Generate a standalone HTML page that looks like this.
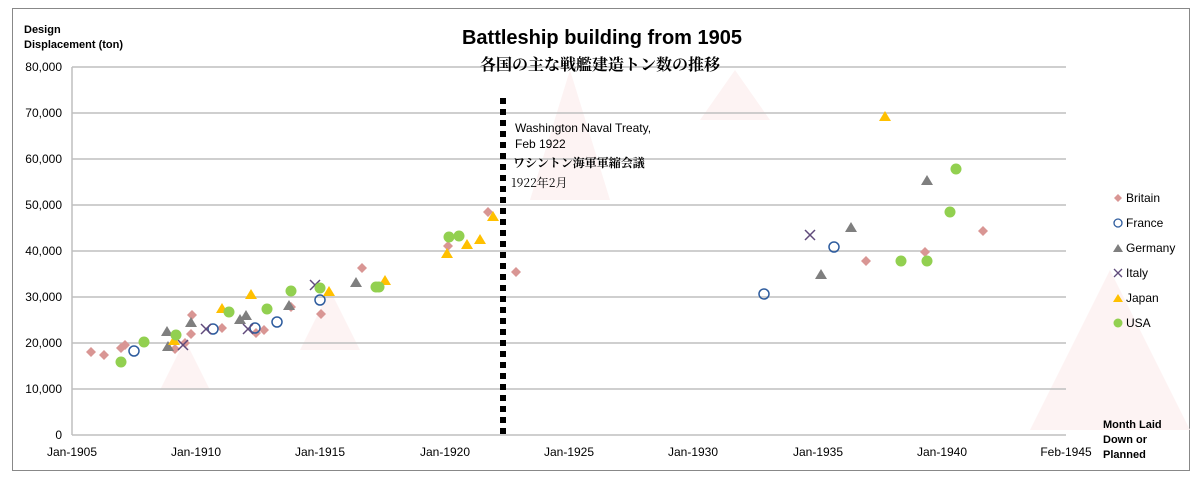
<!DOCTYPE html><html><head><meta charset="utf-8"><style>body{margin:0;background:#fff}svg{font-family:"Liberation Sans","Noto Sans CJK JP",sans-serif}</style></head><body>
<svg width="1200" height="481" xmlns="http://www.w3.org/2000/svg">
<rect x="12.5" y="8.5" width="1177" height="462" fill="#fff" stroke="#888"/>
<g fill="#fdf3f3"><polygon points="530,200 570,70 610,200"/><polygon points="700,120 735,70 770,120"/><polygon points="1030,430 1110,270 1190,430"/><polygon points="160,390 185,340 210,390"/><polygon points="300,350 330,290 360,350"/></g>
<g stroke="#bfbfbf" stroke-width="1.5">
<line x1="72" y1="67" x2="1066" y2="67"/><line x1="72" y1="113" x2="1066" y2="113"/><line x1="72" y1="159" x2="1066" y2="159"/><line x1="72" y1="205" x2="1066" y2="205"/><line x1="72" y1="251" x2="1066" y2="251"/><line x1="72" y1="297" x2="1066" y2="297"/><line x1="72" y1="343" x2="1066" y2="343"/><line x1="72" y1="389" x2="1066" y2="389"/><line x1="72" y1="435" x2="1066" y2="435"/><line x1="72" y1="67" x2="72" y2="435"/>
</g>
<g font-size="12" fill="#000" text-anchor="end">
<text x="62" y="71">80,000</text><text x="62" y="117">70,000</text><text x="62" y="163">60,000</text><text x="62" y="209">50,000</text><text x="62" y="255">40,000</text><text x="62" y="301">30,000</text><text x="62" y="347">20,000</text><text x="62" y="393">10,000</text><text x="62" y="439">0</text>
</g>
<g font-size="12" text-anchor="middle">
<text x="72" y="456">Jan-1905</text><text x="196" y="456">Jan-1910</text><text x="320" y="456">Jan-1915</text><text x="445" y="456">Jan-1920</text><text x="569" y="456">Jan-1925</text><text x="693" y="456">Jan-1930</text><text x="818" y="456">Jan-1935</text><text x="942" y="456">Jan-1940</text><text x="1066" y="456">Feb-1945</text>
</g>
<text x="24" y="33" font-size="11" font-weight="bold">Design</text><text x="24" y="48" font-size="11" font-weight="bold">Displacement (ton)</text>
<text x="1103" y="428" font-size="11" font-weight="bold">Month Laid</text><text x="1103" y="443" font-size="11" font-weight="bold">Down or</text><text x="1103" y="458" font-size="11" font-weight="bold">Planned</text>
<text x="602" y="44" font-size="20" font-weight="bold" text-anchor="middle">Battleship building from 1905</text>
<text x="600" y="70" font-size="16" font-weight="bold" text-anchor="middle" font-family="Noto Serif CJK SC,serif">各国の主な戦艦建造トン数の推移</text>
<line x1="503" y1="98" x2="503" y2="435" stroke="#000" stroke-width="6" stroke-dasharray="6,5"/>
<g font-size="12"><text x="515" y="132">Washington Naval Treaty,</text><text x="515" y="148">Feb 1922</text>
<text x="513" y="167" font-family="Noto Serif CJK JP,serif" font-weight="bold">ワシントン海軍軍縮会議</text><text x="511" y="187" font-family="Noto Serif CJK JP,serif">1922年2月</text></g>
<g id="b" fill="#d99694">
<script>/* none */</script>
</g>
<g fill="#d99694">
<path d="M91 347l5 5-5 5-5-5z"/><path d="M104 350l5 5-5 5-5-5z"/><path d="M121 343l5 5-5 5-5-5z"/><path d="M125 340l5 5-5 5-5-5z"/><path d="M175 344l5 5-5 5-5-5z"/><path d="M185 338l5 5-5 5-5-5z"/><path d="M191 329l5 5-5 5-5-5z"/><path d="M192 310l5 5-5 5-5-5z"/><path d="M222 323l5 5-5 5-5-5z"/><path d="M256 328l5 5-5 5-5-5z"/><path d="M264 325l5 5-5 5-5-5z"/><path d="M291 302l5 5-5 5-5-5z"/><path d="M321 309l5 5-5 5-5-5z"/><path d="M362 263l5 5-5 5-5-5z"/><path d="M448 241l5 5-5 5-5-5z"/><path d="M488 207l5 5-5 5-5-5z"/><path d="M516 267l5 5-5 5-5-5z"/><path d="M866 256l5 5-5 5-5-5z"/><path d="M925 247l5 5-5 5-5-5z"/><path d="M983 226l5 5-5 5-5-5z"/>
</g>
<g fill="none" stroke="#2e5c9e" stroke-width="1.5">
<circle cx="134" cy="351" r="5"/><circle cx="213" cy="329" r="5"/><circle cx="255" cy="328" r="5"/><circle cx="277" cy="322" r="5"/><circle cx="320" cy="300" r="5"/><circle cx="764" cy="294" r="5"/><circle cx="834" cy="247" r="5"/>
</g>
<g fill="#7f7f7f">
<path d="M167 326l6 10h-12z"/><path d="M168 341l6 10h-12z"/><path d="M191 317l6 10h-12z"/><path d="M240 314l6 10h-12z"/><path d="M246 310l6 10h-12z"/><path d="M289 300l6 10h-12z"/><path d="M356 277l6 10h-12z"/><path d="M821 269l6 10h-12z"/><path d="M851 222l6 10h-12z"/><path d="M927 175l6 10h-12z"/>
</g>
<g stroke="#604a7b" stroke-width="1.5">
<path d="M178 340l10 10M188 340l-10 10"/><path d="M201 324l10 10M211 324l-10 10"/><path d="M243 324l10 10M253 324l-10 10"/><path d="M310 280l10 10M320 280l-10 10"/><path d="M805 230l10 10M815 230l-10 10"/>
</g>
<g fill="#ffc000">
<path d="M174 335l6 10h-12z"/><path d="M222 303l6 10h-12z"/><path d="M251 289l6 10h-12z"/><path d="M329 286l6 10h-12z"/><path d="M385 275l6 10h-12z"/><path d="M447 248l6 10h-12z"/><path d="M467 239l6 10h-12z"/><path d="M480 234l6 10h-12z"/><path d="M493 211l6 10h-12z"/><path d="M885 111l6 10h-12z"/>
</g>
<g fill="#92d050">
<circle cx="121" cy="362" r="5.5"/><circle cx="144" cy="342" r="5.5"/><circle cx="176" cy="335" r="5.5"/><circle cx="229" cy="312" r="5.5"/><circle cx="267" cy="309" r="5.5"/><circle cx="291" cy="291" r="5.5"/><circle cx="320" cy="288" r="5.5"/><circle cx="376" cy="287" r="5.5"/><circle cx="379" cy="287" r="5.5"/><circle cx="449" cy="237" r="5.5"/><circle cx="459" cy="236" r="5.5"/><circle cx="901" cy="261" r="5.5"/><circle cx="927" cy="261" r="5.5"/><circle cx="950" cy="212" r="5.5"/><circle cx="956" cy="169" r="5.5"/>
</g>
<g font-size="12">
<path d="M1118 194l4 4-4 4-4-4z" fill="#d99694"/><text x="1126" y="202">Britain</text>
<circle cx="1118" cy="223" r="4" fill="none" stroke="#2e5c9e" stroke-width="1.3"/><text x="1126" y="227">France</text>
<path d="M1118 244l5 8h-10z" fill="#7f7f7f"/><text x="1126" y="252">Germany</text>
<path d="M1114 269l8 8M1122 269l-8 8" stroke="#604a7b" stroke-width="1.3"/><text x="1126" y="277">Italy</text>
<path d="M1118 294l5 8h-10z" fill="#ffc000"/><text x="1126" y="302">Japan</text>
<circle cx="1118" cy="323" r="4.5" fill="#92d050"/><text x="1126" y="327">USA</text>
</g>
</svg></body></html>
